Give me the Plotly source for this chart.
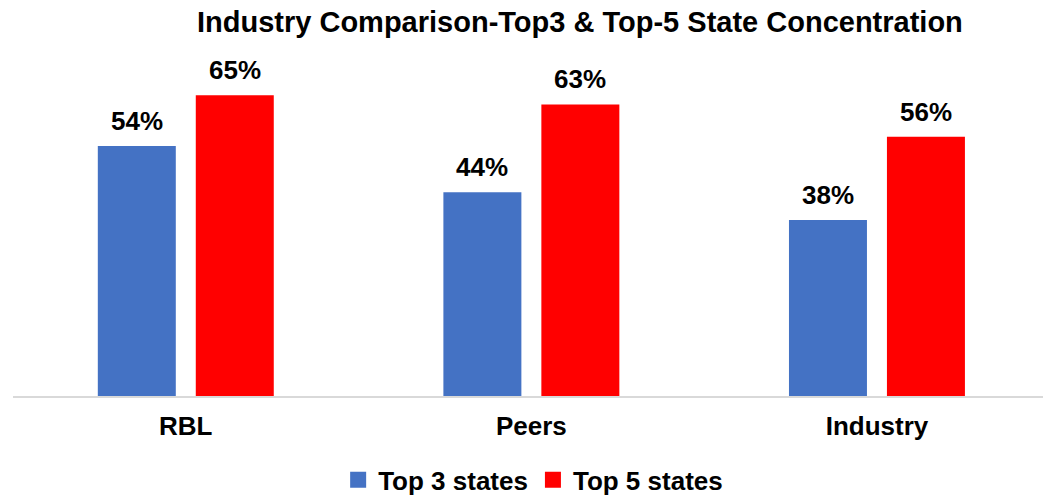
import plotly.graph_objects as go

categories = ["RBL", "Peers", "Industry"]
top3_states = [54, 44, 38]
top5_states = [65, 63, 56]

series_names = ["Top 3 states", "Top 5 states"]
colors = ["#4472C4", "#FF0000"]
font_family = "Liberation Sans, Arial, sans-serif"

fig = go.Figure()

for name, values, color in zip(series_names, [top3_states, top5_states], colors):
    fig.add_trace(go.Bar(
        x=categories, y=values, name=name,
        marker=dict(color=color, line=dict(width=0)),
        showlegend=False,
    ))
    # legend proxy with a larger square swatch
    fig.add_trace(go.Scatter(
        x=[None], y=[None], mode="markers", name=f"<b>{name}</b>",
        marker=dict(symbol="square", size=16, color=color),
        showlegend=True,
    ))

# value labels above each bar
offsets = [-49, 49]
for values, dx in zip([top3_states, top5_states], offsets):
    for cat, v in zip(categories, values):
        fig.add_annotation(
            x=cat, y=v, text=f"<b>{v}%</b>", showarrow=False,
            xanchor="center", yanchor="bottom", xshift=dx, yshift=8,
            font=dict(family=font_family, size=26, color="#000000"),
        )

fig.update_layout(
    width=1043, height=495,
    margin=dict(l=13, r=0, t=72, b=99, autoexpand=False),
    paper_bgcolor="white", plot_bgcolor="white",
    barmode="group", bargap=0.433, bargroupgap=0.204,
    title=dict(
        text="<b>Industry Comparison-Top3 & Top-5 State Concentration</b>",
        x=0.556, xref="container", xanchor="center",
        y=0.955, yref="container", yanchor="middle",
        font=dict(family=font_family, size=29, color="#000000"),
    ),
    xaxis=dict(
        type="category", range=[-0.5, 2.4805],
        showline=True, linecolor="#D9D9D9", linewidth=2,
        showgrid=False, ticks="", ticklabelstandoff=6,
        tickfont=dict(family=font_family, size=26, color="#000000"),
        tickprefix="<b>", ticksuffix="</b>",
    ),
    yaxis=dict(
        range=[0, 70], showgrid=False, zeroline=False,
        showticklabels=False, showline=False,
    ),
    legend=dict(
        orientation="h", x=0.505, xanchor="center", y=-0.259, yanchor="middle",
        font=dict(family=font_family, size=26, color="#000000"),
        itemsizing="trace", traceorder="normal",
    ),
)

fig.write_html("out.html")
